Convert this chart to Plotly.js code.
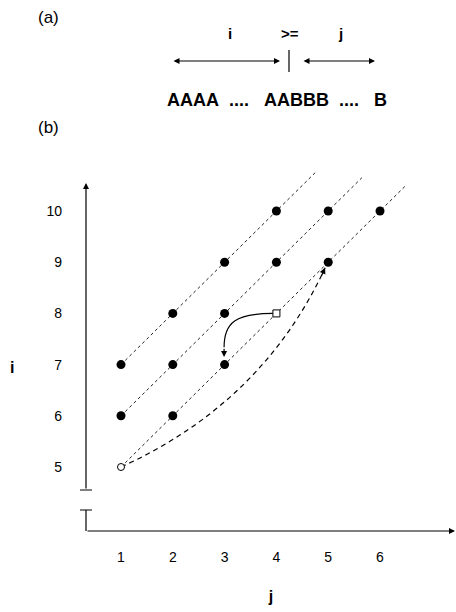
<!DOCTYPE html>
<html><head><meta charset="utf-8">
<script src="https://cdn.plot.ly/plotly-3.0.1.min.js"></script>
<style>html,body{margin:0;padding:0;background:#fff}</style>
</head><body><div id="chart" style="width:456px;height:612px"></div>
<script>
// ---- data ----
const jTicks = [1, 2, 3, 4, 5, 6];
const iTicks = [5, 6, 7, 8, 9, 10];
const filledJ = [1, 2, 3, 4, 1, 2, 3, 4, 5, 2, 3, 5, 6];
const filledI = [7, 8, 9, 10, 6, 7, 8, 9, 10, 6, 7, 9, 10];
const openCircleJ = [1];
const openCircleI = [5];
const openSquareJ = [4];
const openSquareI = [8];
// diagonal dotted lines: start point and how far they run (in j units)
const diagStartJ = [1, 1, 1];
const diagStartI = [7, 6, 5];
const diagLength = [3.75, 4.65, 5.5];
// dashed jump curve (1,5) -> (5,9)
const jumpFrom = [1, 5];
const jumpCtrl = [3.73, 6.25];
const jumpTo = [4.94, 8.89];
const jumpTail = [4.86, 8.71];
// solid turn curve (4,8) -> (3,7)
const turnFrom = [3.93, 8.0];
const turnCtrl1 = [3.22, 8.0];
const turnCtrl2 = [2.99, 7.83];
const turnTo = [2.99, 7.34];
const turnTip = [2.99, 7.15];

// ---- geometry helpers (plot area: left 86, top 140, width 370, height 391) ----
const L = 86, T = 140, W = 370, H = 391;
const px = x => (x - L) / W;
const py = y => (T + H - y) / H;
const FONT = 'Liberation Sans, Arial, Helvetica, sans-serif';

const traces = [];
for (let k = 0; k < diagStartJ.length; k++) {
  traces.push({
    x: [diagStartJ[k], diagStartJ[k] + diagLength[k]],
    y: [diagStartI[k], diagStartI[k] + diagLength[k]],
    mode: 'lines', line: {color: '#222', width: 1, dash: '3px,3px'},
    hoverinfo: 'skip', showlegend: false
  });
}
traces.push({x: filledJ, y: filledI, mode: 'markers',
  marker: {size: 9, color: '#000'}, showlegend: false});
traces.push({x: openCircleJ, y: openCircleI, mode: 'markers',
  marker: {size: 7, symbol: 'circle', color: '#fff', line: {color: '#000', width: 1}}, showlegend: false});
traces.push({x: openSquareJ, y: openSquareI, mode: 'markers',
  marker: {size: 7, symbol: 'square', color: '#fff', line: {color: '#000', width: 1}}, showlegend: false});

const shapes = [
  {type: 'path', xref: 'x', yref: 'y',
   path: `M ${jumpFrom[0]},${jumpFrom[1]} Q ${jumpCtrl[0]},${jumpCtrl[1]} ${jumpTo[0]},${jumpTo[1]}`,
   line: {color: '#000', width: 1.2, dash: '5px,4px'}, layer: 'below'},
  {type: 'path', xref: 'x', yref: 'y',
   path: `M ${turnFrom[0]},${turnFrom[1]} C ${turnCtrl1[0]},${turnCtrl1[1]} ${turnCtrl2[0]},${turnCtrl2[1]} ${turnTo[0]},${turnTo[1]}`,
   line: {color: '#000', width: 1.2}},
  // axis break marks and lower axis stub
  {type: 'line', xref: 'paper', yref: 'paper', x0: px(80), x1: px(92), y0: py(490), y1: py(490), line: {color: '#000', width: 1}},
  {type: 'line', xref: 'paper', yref: 'paper', x0: px(80), x1: px(92), y0: py(510), y1: py(510), line: {color: '#000', width: 1}},
  {type: 'line', xref: 'paper', yref: 'paper', x0: px(86), x1: px(86), y0: py(510), y1: py(531), line: {color: '#000', width: 1.2}},
  // header divider bar
  {type: 'line', xref: 'paper', yref: 'paper', x0: px(289), x1: px(289), y0: py(50), y1: py(72), line: {color: '#000', width: 1.2}}
];

const arrow = (x, y, ax, ay, both) => ({
  xref: 'paper', yref: 'paper', x: px(x), y: py(y), ax: ax, ay: ay,
  text: '', showarrow: true, arrowhead: 2, arrowsize: 1, arrowwidth: 1.2,
  arrowcolor: '#000', arrowside: both ? 'end+start' : 'end', startarrowhead: 2, startarrowsize: 1
});
const label = (t, x, y, size, bold) => ({
  xref: 'paper', yref: 'paper', x: px(x), y: py(y), xanchor: 'center', yanchor: 'middle',
  text: bold ? '<b>' + t + '</b>' : t, showarrow: false,
  font: {family: FONT, size: size, color: '#000'}
});

const annotations = [
  arrow(86, 183, 0, 307, false),          // vertical axis with arrow
  arrow(455, 531, -369, 0, false),        // horizontal axis with arrow
  arrow(280, 61, -108, 0, true),          // header left arrow
  arrow(375, 61, -73, 0, true),           // header right arrow
  {xref: 'x', yref: 'y', axref: 'x', ayref: 'y', x: jumpTo[0], y: jumpTo[1], ax: jumpTail[0], ay: jumpTail[1],
   text: '', showarrow: true, arrowhead: 2, arrowsize: 1, arrowwidth: 1.2, arrowcolor: '#000'},
  {xref: 'x', yref: 'y', axref: 'x', ayref: 'y', x: turnTip[0], y: turnTip[1], ax: turnTo[0], ay: turnTo[1],
   text: '', showarrow: true, arrowhead: 2, arrowsize: 1, arrowwidth: 1.2, arrowcolor: '#000'},
  label('(a)', 48, 18, 17, false),
  label('(b)', 48, 127, 17, false),
  label('i', 230, 33, 15, true),
  label('&gt;=', 290, 33, 15, true),
  label('j', 340, 33, 15, true),
  label('AAAA\u00a0\u00a0....\u00a0\u00a0\u00a0AABBB\u00a0\u00a0....\u00a0\u00a0\u00a0B', 277, 100, 18, true),
  label('i', 12, 367, 16, true)
];

const layout = {
  width: 456, height: 612, autosize: false,
  margin: {l: L, r: 456 - L - W, t: T, b: 612 - T - H, pad: 0},
  paper_bgcolor: '#fff', plot_bgcolor: '#fff',
  font: {family: FONT, color: '#000'},
  showlegend: false,
  xaxis: {range: [0.3243, 7.467], showgrid: false, zeroline: false, showline: false,
    tickvals: jTicks, ticktext: jTicks.map(String), ticks: '', ticklabelstandoff: 16,
    tickfont: {family: FONT, size: 14, color: '#000'},
    title: {text: '<b>j</b>', font: {family: FONT, size: 16, color: '#000'}, standoff: 26},
    fixedrange: true},
  yaxis: {range: [3.75, 11.387], showgrid: false, zeroline: false, showline: false,
    tickvals: iTicks, ticktext: iTicks.map(String), ticks: '', ticklabelstandoff: 23,
    tickfont: {family: FONT, size: 14, color: '#000'},
    fixedrange: true},
  shapes: shapes,
  annotations: annotations
};

Plotly.newPlot('chart', traces, layout, {staticPlot: true, displayModeBar: false});
</script>
</body></html>
